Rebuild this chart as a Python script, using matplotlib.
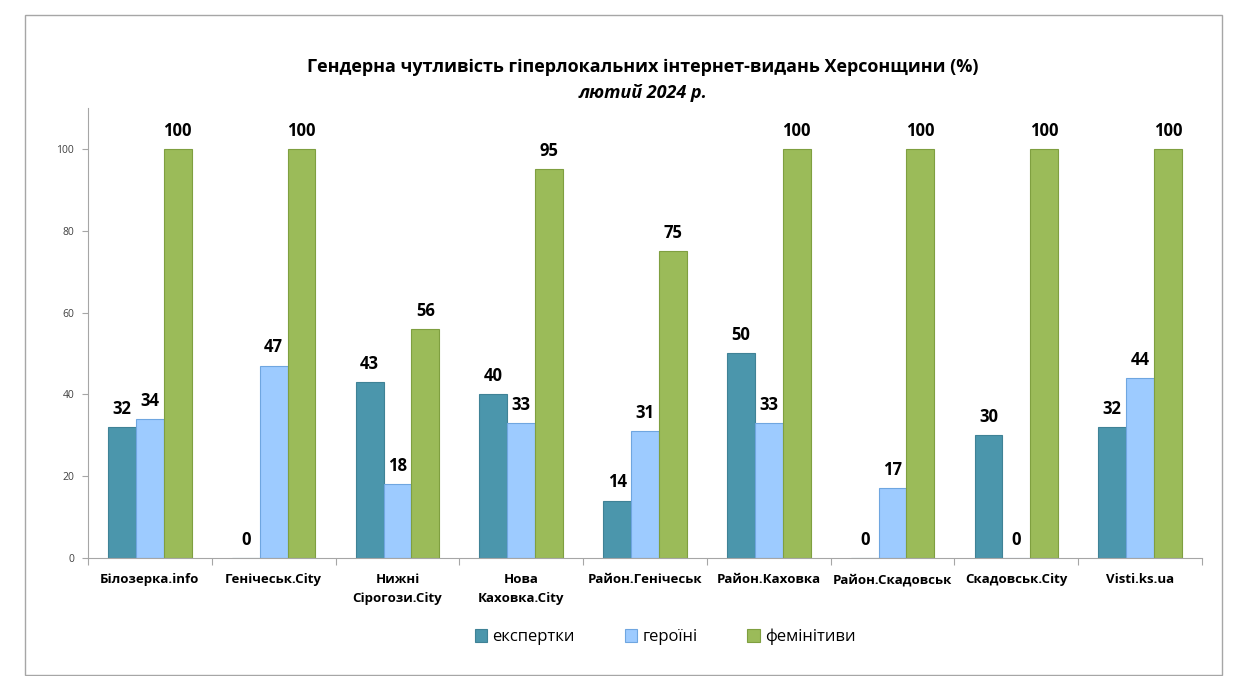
import matplotlib
matplotlib.use("Agg")
import matplotlib.pyplot as plt
import numpy as np
from matplotlib.patches import Rectangle

plt.rcParams['font.family'] = ['Open Sans', 'DejaVu Sans']

categories = ["Білозерка.info", "Генічеськ.City", "Нижні\nСірогози.City", "Нова\nКаховка.City",
              "Район.Генічеськ", "Район.Каховка", "Район.Скадовськ", "Скадовськ.City", "Visti.ks.ua"]
ekspertky = [32, 0, 43, 40, 14, 50, 0, 30, 32]
heroini = [34, 47, 18, 33, 31, 33, 17, 0, 44]
feminityvy = [100, 100, 56, 95, 75, 100, 100, 100, 100]

series = [("експертки", ekspertky, "#4B96AC", "#3F8296"),
          ("героїні", heroini, "#9DCBFF", "#6FA6E0"),
          ("фемінітиви", feminityvy, "#9BBB59", "#7F9F40")]

fig = plt.figure(figsize=(12.5, 6.76), dpi=100)
fig.patches.append(Rectangle((25 / 1250, 1 - 675 / 676), (1222 - 25) / 1250, (675 - 15) / 676,
                             transform=fig.transFigure, fill=False, edgecolor="#A6A6A6", lw=1))
ax = fig.add_axes([88 / 1250, 1 - 558 / 676, (1202 - 88) / 1250, (558 - 108) / 676])

x = np.arange(len(categories))
w = 0.225
for i, (name, vals, col, ec) in enumerate(series):
    pos = x + (i - 1) * w
    ax.bar(pos, vals, w, color=col, edgecolor=ec, lw=0.8, label=name, zorder=2)
    for p, v in zip(pos, vals):
        ax.text(p, v + 2.3, str(v), ha="center", va="bottom", fontsize=12, fontweight="bold")

ax.set_xlim(-0.5, len(categories) - 0.5)
ax.set_ylim(0, 110)
ax.set_yticks(range(0, 101, 20))
ax.tick_params(axis="y", labelsize=7.5, colors="#404040", length=4, color="#A6A6A6", pad=6)
ax.set_xticks(np.arange(-0.5, len(categories), 1.0))
ax.set_xticklabels([])
ax.tick_params(axis="x", length=5, color="#A6A6A6")
ax.set_xticks(x, minor=True)
ax.set_xticklabels(categories, minor=True, fontsize=9.5, fontweight="bold", va="top", linespacing=1.6)
ax.tick_params(axis="x", which="minor", length=0, pad=11)

for s in ["top", "right"]:
    ax.spines[s].set_visible(False)
for s in ["left", "bottom"]:
    ax.spines[s].set_color("#A6A6A6")

fig.text(643 / 1250, 1 - 67 / 676, "Гендерна чутливість гіперлокальних інтернет-видань Херсонщини (%)",
         ha="center", va="center", fontsize=13, fontweight="bold")
fig.text(643 / 1250, 1 - 93 / 676, "лютий 2024 р.", ha="center", va="center",
         fontsize=13, fontweight="bold", style="italic")

fig.legend(loc="center", bbox_to_anchor=(665 / 1250, 1 - 637 / 676), ncol=3, frameon=False,
           fontsize=12, handlelength=0.75, handleheight=0.75, columnspacing=3.0, handletextpad=0.3)

fig.savefig("out.png", dpi=100)
